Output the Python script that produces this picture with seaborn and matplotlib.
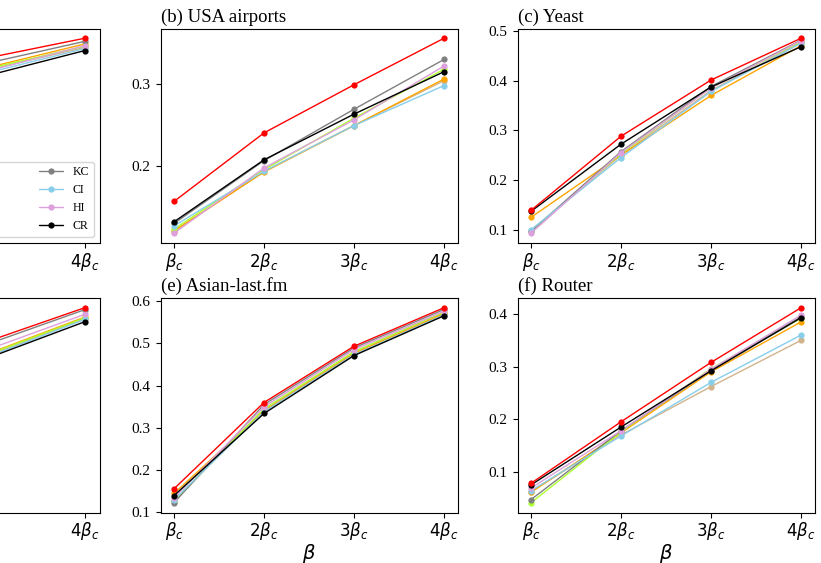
import matplotlib
matplotlib.use("Agg")
import matplotlib.pyplot as plt
from matplotlib.lines import Line2D
from matplotlib.ticker import MultipleLocator
import pandas as pd
import seaborn as sns

# x positions (multiples of the critical infection rate) and their labels
beta_steps = [1, 2, 3, 4]
beta_labels = [r"$\beta_c$", r"$2\beta_c$", r"$3\beta_c$", r"$4\beta_c$"]

# ranking methods and their colours (legend order)
methods = ["DC", "BC", "CC", "EC", "KC", "CI", "HI", "CR"]
colors = ["red", "tan", "orange", "greenyellow", "gray", "skyblue", "plum", "black"]
# drawing order: red goes on top
draw_order = ["BC", "CC", "EC", "KC", "CI", "HI", "CR", "DC"]

titles = ["(a) Jazz", "(b) USA airports", "(c) Yeast",
          "(d) Email", "(e) Asian-last.fm", "(f) Router"]

# infected fraction per method at beta_c .. 4 beta_c
jazz = {
    "DC": [0.110, 0.290, 0.385, 0.420], "BC": [0.088, 0.257, 0.364, 0.404],
    "CC": [0.090, 0.260, 0.368, 0.410], "EC": [0.085, 0.258, 0.366, 0.406],
    "KC": [0.095, 0.270, 0.376, 0.4145], "CI": [0.080, 0.252, 0.359, 0.402],
    "HI": [0.083, 0.255, 0.362, 0.407], "CR": [0.090, 0.250, 0.354, 0.3985],
}
usa_airports = {
    "DC": [0.156, 0.240, 0.299, 0.356], "BC": [0.119, 0.193, 0.249, 0.304],
    "CC": [0.120, 0.192, 0.249, 0.306], "EC": [0.122, 0.195, 0.258, 0.318],
    "KC": [0.129, 0.206, 0.269, 0.330], "CI": [0.126, 0.193, 0.249, 0.298],
    "HI": [0.117, 0.197, 0.256, 0.322], "CR": [0.131, 0.207, 0.263, 0.315],
}
yeast = {
    "DC": [0.139, 0.288, 0.401, 0.485], "BC": [0.098, 0.250, 0.380, 0.476],
    "CC": [0.125, 0.250, 0.370, 0.470], "EC": [0.097, 0.253, 0.386, 0.478],
    "KC": [0.097, 0.257, 0.388, 0.481], "CI": [0.100, 0.245, 0.378, 0.475],
    "HI": [0.093, 0.255, 0.385, 0.480], "CR": [0.137, 0.272, 0.387, 0.468],
}
email = {
    "DC": [0.160, 0.380, 0.512, 0.600], "BC": [0.125, 0.350, 0.475, 0.572],
    "CC": [0.135, 0.355, 0.480, 0.576], "EC": [0.120, 0.352, 0.478, 0.574],
    "KC": [0.110, 0.370, 0.505, 0.595], "CI": [0.115, 0.345, 0.472, 0.570],
    "HI": [0.130, 0.360, 0.491, 0.583], "CR": [0.100, 0.340, 0.469, 0.564],
}
asian_lastfm = {
    "DC": [0.156, 0.360, 0.493, 0.584], "BC": [0.127, 0.342, 0.479, 0.572],
    "CC": [0.145, 0.340, 0.476, 0.570], "EC": [0.128, 0.345, 0.480, 0.574],
    "KC": [0.123, 0.355, 0.489, 0.580], "CI": [0.130, 0.338, 0.473, 0.567],
    "HI": [0.135, 0.350, 0.485, 0.576], "CR": [0.140, 0.334, 0.471, 0.565],
}
router = {
    "DC": [0.078, 0.195, 0.308, 0.412], "BC": [0.062, 0.170, 0.262, 0.350],
    "CC": [0.061, 0.174, 0.290, 0.385], "EC": [0.041, 0.176, 0.296, 0.392],
    "KC": [0.047, 0.178, 0.293, 0.395], "CI": [0.064, 0.168, 0.270, 0.360],
    "HI": [0.069, 0.178, 0.295, 0.398], "CR": [0.075, 0.185, 0.292, 0.393],
}
panels = [jazz, usa_airports, yeast, email, asian_lastfm, router]

sns.set_theme(style="ticks", rc={
    "axes.edgecolor": "black", "axes.linewidth": 0.8,
    "xtick.color": "black", "ytick.color": "black",
    "xtick.major.size": 3.5, "ytick.major.size": 3.5,
    "xtick.major.width": 0.8, "ytick.major.width": 0.8,
    "text.color": "black", "axes.labelcolor": "black",
})
plt.rcParams["font.family"] = ["Liberation Serif", "DejaVu Sans"]
plt.rcParams["mathtext.fontset"] = "dejavusans"

W, H = 821, 563
fig = plt.figure(figsize=(W / 100, H / 100), dpi=100)

# axes boxes in pixels: (left, width) per column, top per row
col_box = [(-227.0, 326.5), (160.5, 297.0), (517.5, 297.0)]
row_top = [28.5, 298.0]
ax_h = 214.5

palette = dict(zip(methods, colors))
axes = []
for i, (data, title) in enumerate(zip(panels, titles)):
    r, c = divmod(i, 3)
    left, ax_w = col_box[c]
    bottom = H - (row_top[r] + ax_h)
    ax = fig.add_axes([left / W, bottom / H, ax_w / W, ax_h / H])
    df = pd.DataFrame([
        {"beta": b, "value": v, "method": m}
        for m in methods for b, v in zip(beta_steps, data[m])
    ])
    sns.lineplot(data=df, x="beta", y="value", hue="method",
                 hue_order=draw_order, palette=palette, marker="o",
                 markersize=4.5, markeredgewidth=0, linewidth=1,
                 legend=False, ax=ax)
    ax.set_xticks(beta_steps)
    ax.set_xticklabels(beta_labels)
    ax.yaxis.set_major_locator(MultipleLocator(0.1))
    ax.tick_params(axis="x", labelsize=12, pad=2)
    ax.tick_params(axis="y", labelsize=11)
    ax.set_ylabel("")
    ax.set_xlabel(r"$\beta$" if r == 1 else "", fontsize=14, labelpad=0)
    ax.set_title(title, loc="left", fontsize=13.5, pad=5)
    axes.append(ax)

handles = [Line2D([], [], color=col, marker="o", markersize=4.5,
                  markeredgewidth=0, linewidth=1) for col in colors]
axes[0].legend(handles, methods, loc="lower right", ncol=2, fontsize=8.6,
               columnspacing=3.4)

fig.savefig("out.png", dpi=100)
